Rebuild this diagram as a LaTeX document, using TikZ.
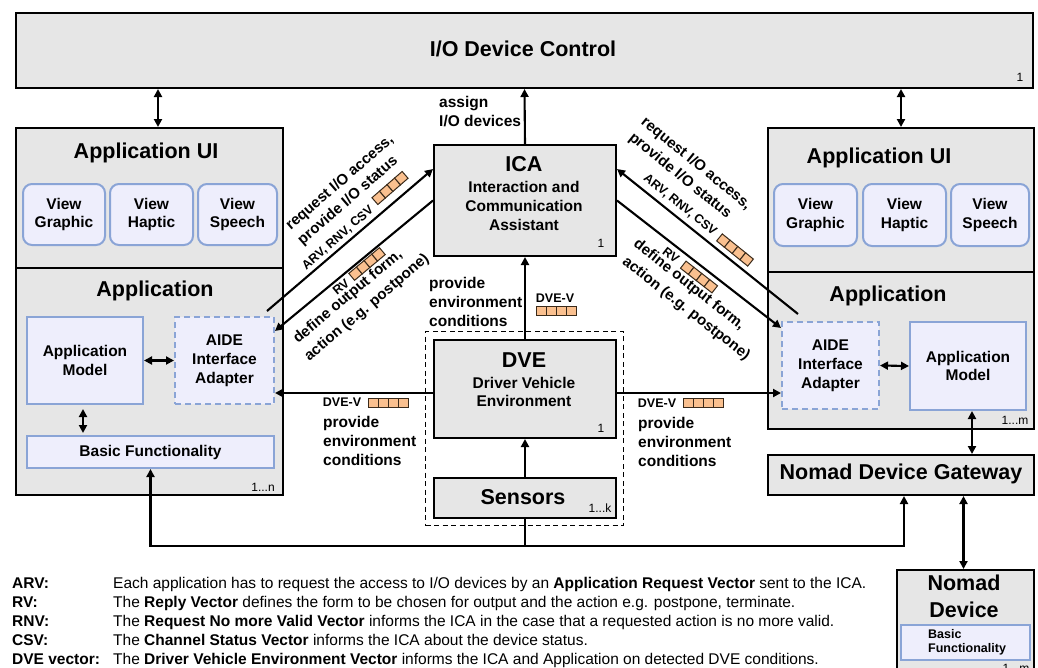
\documentclass[tikz,border=0pt]{standalone}
\usepackage{fontspec}
\setmainfont{Liberation Sans}
\usetikzlibrary{arrows.meta}
\definecolor{boxgray}{HTML}{E6E6E6}
\definecolor{lav}{HTML}{EEEEFC}
\definecolor{bluebord}{HTML}{8AA4D6}
\definecolor{vecfill}{HTML}{FAC08F}
\definecolor{vecdraw}{HTML}{3A2A1A}
\begin{document}
\begin{tikzpicture}[x=1pt,y=-1pt,
  graybox/.style={draw=black, line width=2pt, fill=boxgray, inner sep=0pt, anchor=north west},
  bluebox/.style={draw=bluebord, line width=2pt, fill=lav, inner sep=0pt, anchor=north west, align=center, font=\bfseries\fontsize{15.5}{18.8}\selectfont},
  viewbox/.style={bluebox, rounded corners=9pt},
  aidebox/.style={bluebox, dash pattern=on 6pt off 4pt},
  grpbox/.style={draw=black, line width=1.4pt, dash pattern=on 5pt off 3.5pt, inner sep=0pt, anchor=north west},
  ttl/.style={font=\bfseries\fontsize{21.5}{27}\selectfont, inner sep=0pt, align=center},
  sub/.style={font=\bfseries\fontsize{15.5}{18.8}\selectfont, align=center, inner sep=0pt},
  lbl/.style={font=\bfseries\fontsize{15.5}{19}\selectfont, align=left, inner sep=0pt},
  dlbl/.style={font=\bfseries\fontsize{15}{18}\selectfont, inner sep=0pt},
  tiny/.style={font=\bfseries\fontsize{12.5}{14}\selectfont, inner sep=0pt},
  num/.style={font=\fontsize{12}{14}\selectfont, inner sep=0pt},
  legl/.style={font=\bfseries\fontsize{15.5}{18}\selectfont, inner sep=0pt, anchor=base west},
  legd/.style={font=\fontsize{15.5}{18}\selectfont, inner sep=0pt, anchor=base west},
  conn/.style={line width=2.1pt, -{Triangle[length=8pt,width=8pt]}},
  dconn/.style={line width=2.1pt, {Triangle[length=8pt,width=8pt]}-{Triangle[length=8pt,width=8pt]}},
  vecicon/.pic={\foreach \i in {0,1,2,3}{\draw[fill=vecfill,draw=vecdraw,line width=1pt] (-20+10*\i,-4.5) rectangle ++(10,9);}}
]
\useasboundingbox (0,0) rectangle (1038,667);
\clip (0,0) rectangle (1038,667);

% I/O device control
\node[graybox, minimum width=1017pt, minimum height=75pt] (io) at (15,12) {};
\node[ttl] (iot) at (523,49) {I/O Device Control};
\node[num] (ion) at (1020,77) {1};

% left panel
\node[graybox, minimum width=267pt, minimum height=140pt] (lui) at (15,127) {};
\node[graybox, minimum width=267pt, minimum height=227pt] (lapp) at (15,267) {};
\node[ttl] (luit) at (146,153) {Application UI};
\node[ttl] (lappt) at (155,291) {Application};
\node[viewbox, minimum width=82pt, minimum height=61pt] (lvg) at (22,183) {View\\Graphic};
\node[viewbox, minimum width=83pt, minimum height=61pt] (lvh) at (109,183) {View\\Haptic};
\node[viewbox, minimum width=79pt, minimum height=61pt] (lvs) at (197,183) {View\\Speech};
\node[bluebox, minimum width=116pt, minimum height=87pt] (lmod) at (26,316) {Application\\Model};
\node[aidebox, minimum width=99pt, minimum height=87pt] (laide) at (174,316) {AIDE\\Interface\\Adapter};
\node[bluebox, minimum width=247pt, minimum height=32pt] (lbasic) at (26,435) {Basic Functionality};
\node[num] (ln) at (263,487) {1...n};

% right panel
\node[graybox, minimum width=266pt, minimum height=144pt] (rui) at (767,127) {};
\node[graybox, minimum width=266pt, minimum height=157pt] (rapp) at (767,271) {};
\node[ttl] (ruit) at (879,158) {Application UI};
\node[ttl] (rappt) at (888,296) {Application};
\node[viewbox, minimum width=83pt, minimum height=62pt] (rvg) at (773,183) {View\\Graphic};
\node[viewbox, minimum width=83pt, minimum height=62pt] (rvh) at (862,183) {View\\Haptic};
\node[viewbox, minimum width=78pt, minimum height=62pt] (rvs) at (950,183) {View\\Speech};
\node[aidebox, minimum width=97pt, minimum height=87pt] (raide) at (781,321) {AIDE\\Interface\\Adapter};
\node[bluebox, minimum width=116pt, minimum height=88pt] (rmod) at (909,321) {Application\\Model};
\node[num] (rm) at (1015,420) {1...m};

% ICA
\node[graybox, minimum width=182pt, minimum height=111pt] (ica) at (433,144) {};
\node[ttl] (icat) at (524,164) {ICA};
\node[sub] (icas) at (524,206) {Interaction and\\Communication\\Assistant};
\node[num] (ican) at (601,243) {1};

% DVE group
\node[grpbox, minimum width=198pt, minimum height=194pt] (grp) at (425,331) {};
\node[graybox, minimum width=182pt, minimum height=98pt] (dve) at (433,339) {};
\node[ttl] (dvet) at (524,360) {DVE};
\node[sub] (dves) at (524,392) {Driver Vehicle\\Environment};
\node[num] (dven) at (601,428) {1};
\node[graybox, minimum width=182pt, minimum height=40pt] (sens) at (433,477) {};
\node[ttl] (senst) at (523,497) {Sensors};
\node[num] (sensn) at (600,508) {1...k};

% gateway and nomad device
\node[graybox, minimum width=266pt, minimum height=40pt] (gw) at (767,454) {};
\node[ttl] (gwt) at (901,474) {Nomad Device Gateway};
\node[graybox, minimum width=137pt, minimum height=110pt] (nd) at (896,569) {};
\node[ttl] (ndt) at (964,596.5) {Nomad\\Device};
\node[bluebox, minimum width=129pt, minimum height=35pt] (ndb) at (900,624) {};
\node[font=\bfseries\fontsize{12.5}{14}\selectfont, align=left, anchor=west, inner sep=0pt] (ndbt) at (928,642) {Basic\\Functionality};
\node[num] (ndn) at (1016,668) {1...m};

% connectors
\draw[conn] (ica.north) -- (io.south);
\draw[dconn] ([xshift=8.5pt]lui.north) -- ([xshift=8.5pt]lui.north |- io.south);
\draw[dconn] (rui.north) -- (rui.north |- io.south);
\draw[conn] (dve.north) -- (ica.south);
\draw[conn] (sens.north) -- (dve.south);
\draw[conn] ([yshift=-4pt]dve.west) -- ([yshift=-4pt]dve.west -| laide.east);
\draw[conn] ([yshift=-4pt]dve.east) -- ([yshift=-4pt]dve.east -| raide.west);
\draw[dconn] (lmod.east) -- (laide.west);
\draw[dconn, shorten <=4pt, shorten >=2pt] ([xshift=-2pt]lmod.south) -- ([xshift=-2pt]lmod.south |- lbasic.north);
\draw[dconn] (raide.east) -- (rmod.west);
\draw[dconn] ([xshift=4pt]rmod.south) -- ([xshift=4pt]rmod.south |- gw.north);
\draw[dconn] ([xshift=-2pt]nd.north) -- ([xshift=-2pt]nd.north |- gw.south);
\draw[conn] (sens.south) -- ++(0,27) coordinate (split) -| (lbasic.south);
\draw[conn] (split) -| ([xshift=3pt]gw.south);

\draw[conn] ([xshift=-8pt,yshift=5pt]laide.north east) -- ([yshift=31.5pt]ica.west);
\draw[conn] (ica.west) -- ([yshift=29.5pt]laide.east);
\draw[conn] ([xshift=17pt,yshift=7pt]raide.north west) -- ([yshift=31.5pt]ica.east);
\draw[conn] (ica.east) -- ([yshift=-7pt]raide.north west);

% labels
\node[lbl, anchor=west] (asg) at (439,112) {assign\\I/O devices};
\node[lbl, anchor=west] (pecm) at (429,302) {provide\\environment\\conditions};
\node[lbl, anchor=west] (pecl) at (323,441) {provide\\environment\\conditions};
\node[lbl, anchor=west] (pecr) at (638,442) {provide\\environment\\conditions};
\node[tiny] (dvm) at (555,298) {DVE-V};
\pic at (556,311) {vecicon};
\node[tiny] (dvl) at (342,402) {DVE-V};
\pic at (388,403) {vecicon};
\node[tiny] (dvr) at (657,403) {DVE-V};
\pic at (703,403) {vecicon};

% left diagonal labels
\node[dlbl, rotate=41] (lreq) at (340,183) {request I/O access,};
\node[dlbl, rotate=41] (lprov) at (348,201) {provide I/O status};
\node[tiny, rotate=41] (larv) at (338,238) {ARV, RNV, CSV};
\pic[rotate=41] at (390,188) {vecicon};
\node[tiny, rotate=40] (lrv) at (341,287) {RV};
\pic[rotate=40] at (367,264) {vecicon};
\node[dlbl, rotate=40] (ldef) at (348,297) {define output form,};
\node[dlbl, rotate=40] (lact) at (367,308) {action (e.g. postpone)};

% right diagonal labels
\node[dlbl, rotate=-39] (rreq) at (696,164) {request I/O access,};
\node[dlbl, rotate=-39] (rprov) at (680,176) {provide I/O status};
\node[tiny, rotate=-39] (rarv) at (680,205) {ARV, RNV, CSV};
\pic[rotate=-39] at (735,250) {vecicon};
\node[tiny, rotate=-38] (rrv) at (671,255) {RV};
\pic[rotate=-38] at (699,277) {vecicon};
\node[dlbl, rotate=-38] (rdef) at (689,285) {define output form,};
\node[dlbl, rotate=-38] (ract) at (686,309) {action (e.g. postpone)};

% legend
\node[legl] (kA) at (12,588) {ARV:};
\node[legd] (dA) at (113,588) {Each application has to request the access to I/O devices by an \textbf{Application Request Vector} sent to the ICA.};
\node[legl] (kB) at (12,607) {RV:};
\node[legd] (dB) at (113,607) {The \textbf{Reply Vector} defines the form to be chosen for output and the action e.g. postpone, terminate.};
\node[legl] (kC) at (12,626) {RNV:};
\node[legd] (dC) at (113,626) {The \textbf{Request No more Valid Vector} informs the ICA in the case that a requested action is no more valid.};
\node[legl] (kD) at (12,645) {CSV:};
\node[legd] (dD) at (113,645) {The \textbf{Channel Status Vector} informs the ICA about the device status.};
\node[legl] (kE) at (12,664) {DVE vector:};
\node[legd] (dE) at (113,664) {The \textbf{Driver Vehicle Environment Vector} informs the ICA and Application on detected DVE conditions.};
\end{tikzpicture}
\end{document}
